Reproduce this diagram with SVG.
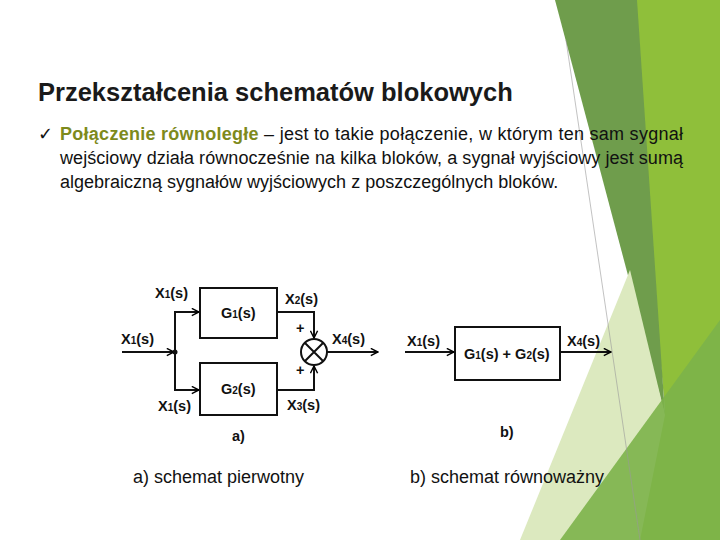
<svg xmlns="http://www.w3.org/2000/svg" width="720" height="540" viewBox="0 0 720 540">
<defs>
<marker id="ah" viewBox="0 0 10 10" refX="9" refY="5" markerWidth="9" markerHeight="9" markerUnits="userSpaceOnUse" orient="auto"><path d="M1,1 L9,5 L1,9" fill="none" stroke="#000" stroke-width="1.6"/></marker>
<style>
.l{font-family:"Liberation Sans",Arial,sans-serif;font-weight:bold;font-size:14.5px;fill:#111}
.s{font-size:10px}
.t{font-family:"Liberation Sans",Arial,sans-serif;font-size:18px;fill:#111}
.w{fill:none;stroke:#111;stroke-width:2}
</style>
</defs>
<rect width="720" height="540" fill="#fff"/>
<g id="background">
<polygon points="628,0 720,0 720,540 600,540 665,410" fill="#8fbf3a"/>
<polygon points="555,0 637,0 665,415" fill="#6f9d4c"/>
<polygon points="630,270 665,415 640,540 520,540" fill="#dce9bf"/>
<polygon points="560,540 720,320 720,540" fill="#7cb24a" opacity="0.9"/>
<line x1="566" y1="40" x2="640" y2="540" stroke="#999" stroke-width="0.6"/>
</g>
<text x="38" y="101" font-family="Liberation Sans,Arial,sans-serif" font-weight="bold" font-size="25.5" fill="#1a1a1a">Przekształcenia schematów blokowych</text>
<text x="38" y="140" class="t">✓</text>
<text x="60" y="140" class="t" textLength="623" lengthAdjust="spacing"><tspan font-weight="bold" fill="#7d8a1c">Połączenie równoległe</tspan> – jest to takie połączenie, w którym ten sam sygnał</text>
<text x="60" y="164" class="t" textLength="623" lengthAdjust="spacing">wejściowy działa równocześnie na kilka bloków, a sygnał wyjściowy jest sumą</text>
<text x="60" y="188" class="t">algebraiczną sygnałów wyjściowych z poszczególnych bloków.</text>
<g id="connectors">
<path class="w" d="M122,352 H174" marker-end="url(#ah)"/>
<path class="w" d="M175,352 V312 H199" marker-end="url(#ah)"/>
<path class="w" d="M175,352 V390 H199" marker-end="url(#ah)"/>
<path class="w" d="M277,312 H314 V338" marker-end="url(#ah)"/>
<path class="w" d="M277,390 H314 V366" marker-end="url(#ah)"/>
<path class="w" d="M327,352 H378" marker-end="url(#ah)"/>
<path class="w" d="M405,352 H454" marker-end="url(#ah)"/>
<path class="w" d="M560,352 H611" marker-end="url(#ah)"/>
<circle cx="175" cy="352" r="2.5" fill="#111"/>
</g>
<g id="G1"><rect class="w" x="200" y="288" width="77" height="50" fill="#fff"/><text class="l" x="221" y="318">G<tspan class="s">1</tspan>(s)</text></g>
<g id="G2"><rect class="w" x="200" y="363" width="77" height="52" fill="#fff"/><text class="l" x="221" y="394">G<tspan class="s">2</tspan>(s)</text></g>
<g id="sum"><circle class="w" cx="314" cy="352" r="13" fill="#fff"/><path class="w" d="M305,343 L323,361 M323,343 L305,361"/></g>
<g id="Gsum"><rect class="w" x="455" y="327" width="105" height="53" fill="#fff"/><text class="l" x="464" y="359">G<tspan class="s">1</tspan>(s) + G<tspan class="s">2</tspan>(s)</text></g>
<g id="labels">
<text class="l" x="155" y="298">X<tspan class="s">1</tspan>(s)</text>
<text class="l" x="285" y="304">X<tspan class="s">2</tspan>(s)</text>
<text class="l" x="121" y="344">X<tspan class="s">1</tspan>(s)</text>
<text class="l" x="332" y="344">X<tspan class="s">4</tspan>(s)</text>
<text class="l" x="158" y="411">X<tspan class="s">1</tspan>(s)</text>
<text class="l" x="287" y="410">X<tspan class="s">3</tspan>(s)</text>
<text class="l" x="296" y="333">+</text>
<text class="l" x="296" y="375">+</text>
<text class="l" x="232" y="441">a)</text>
<text class="l" x="407" y="346">X<tspan class="s">1</tspan>(s)</text>
<text class="l" x="567" y="346">X<tspan class="s">4</tspan>(s)</text>
<text class="l" x="500" y="437">b)</text>
</g>
<text x="133" y="483" class="t">a) schemat pierwotny</text>
<text x="410" y="483" class="t">b) schemat równoważny</text>
</svg>
